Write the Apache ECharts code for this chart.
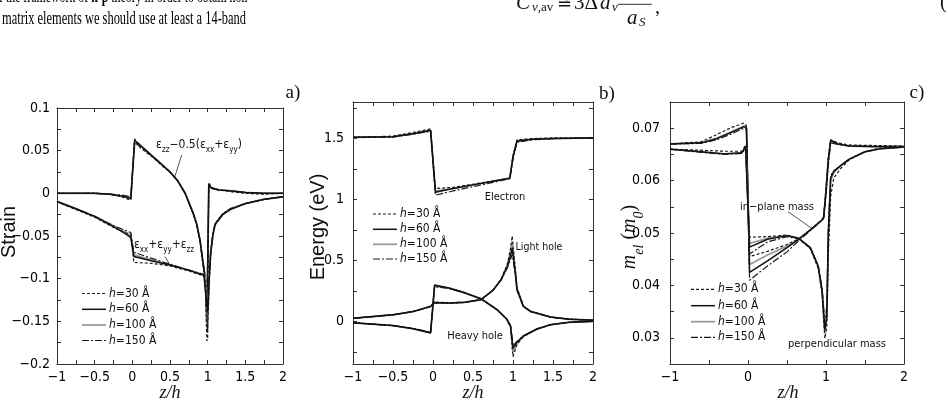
<!DOCTYPE html>
<html>
<head>
<meta charset="utf-8">
<script src="https://cdn.jsdelivr.net/npm/echarts@6/dist/echarts.min.js"></script>
<style>
  html, body { margin: 0; padding: 0; background: #fff; }
  #chart { width: 948px; height: 402px; }
</style>
</head>
<body>
<div id="chart"></div>
<script>
// h = 30, 60, 100, 150 A for every curve

// a) strain
var strainBiaxX = [-1, -0.5, -0.3, -0.15, -0.02, 0.0, 0.03, 0.1, 0.2, 0.3, 0.4, 0.5, 0.6, 0.7, 0.8, 0.85, 0.9, 0.94, 0.97, 0.99, 1.0, 1.015, 1.05, 1.15, 1.3, 1.5, 1.75, 2];
var strainBiax30 = [0, 0, -0.001, -0.004, -0.008, -0.010, 0.064, 0.054, 0.047, 0.040, 0.032, 0.025, 0.015, 0.000, -0.022, -0.036, -0.058, -0.086, -0.110, -0.173, -0.170, 0.012, 0.007, 0.004, 0.002, 0.000, -0.001, 0.000];
var strainBiax60 = [0, 0, -0.001, -0.003, -0.006, -0.008, 0.062, 0.057, 0.049, 0.041, 0.033, 0.025, 0.015, 0.000, -0.022, -0.035, -0.056, -0.083, -0.100, -0.150, -0.150, 0.011, 0.006, 0.004, 0.003, 0.001, 0.000, 0.000];
var strainBiax100 = [0, 0, -0.001, -0.003, -0.005, -0.007, 0.058, 0.056, 0.049, 0.041, 0.033, 0.025, 0.015, 0.001, -0.021, -0.034, -0.055, -0.082, -0.105, -0.160, -0.158, 0.010, 0.006, 0.004, 0.003, 0.001, 0.000, 0.000];
var strainBiax150 = [0, 0, -0.001, -0.002, -0.004, -0.006, 0.060, 0.055, 0.048, 0.041, 0.033, 0.025, 0.015, 0.000, -0.021, -0.034, -0.055, -0.081, -0.098, -0.140, -0.138, 0.009, 0.006, 0.004, 0.003, 0.001, 0.000, 0.000];

var strainHydX = [-1, -0.75, -0.5, -0.25, -0.1, -0.02, 0.0, 0.02, 0.25, 0.5, 0.75, 0.95, 0.975, 1.0, 1.02, 1.04, 1.07, 1.1, 1.2, 1.3, 1.5, 1.75, 2];
var strainHyd30 = [-0.010, -0.019, -0.028, -0.040, -0.046, -0.048, -0.050, -0.081, -0.082, -0.085, -0.091, -0.097, -0.100, -0.160, -0.105, -0.072, -0.050, -0.037, -0.025, -0.019, -0.012, -0.007, -0.004];
var strainHyd60 = [-0.0095, -0.018, -0.027, -0.039, -0.047, -0.052, -0.053, -0.074, -0.079, -0.084, -0.090, -0.096, -0.098, -0.140, -0.100, -0.070, -0.048, -0.036, -0.025, -0.019, -0.012, -0.007, -0.004];
var strainHyd100 = [-0.0095, -0.018, -0.027, -0.038, -0.045, -0.050, -0.052, -0.072, -0.078, -0.084, -0.090, -0.096, -0.099, -0.150, -0.102, -0.070, -0.048, -0.036, -0.024, -0.018, -0.012, -0.007, -0.004];
var strainHyd150 = [-0.0095, -0.018, -0.027, -0.038, -0.043, -0.046, -0.048, -0.069, -0.076, -0.083, -0.090, -0.095, -0.097, -0.135, -0.095, -0.066, -0.046, -0.035, -0.024, -0.018, -0.012, -0.007, -0.004];

// b) band energies (eV)
var elecX = [-1, -0.5, -0.25, -0.03, 0.03, 0.25, 0.5, 0.75, 0.96, 1.0, 1.05, 1.25, 1.5, 2];
var elec30 = [1.51, 1.52, 1.55, 1.58, 1.09, 1.10, 1.125, 1.15, 1.175, 1.36, 1.49, 1.50, 1.505, 1.505];
var elec60 = [1.51, 1.515, 1.54, 1.568, 1.06, 1.09, 1.12, 1.15, 1.175, 1.35, 1.48, 1.495, 1.5, 1.505];
var elec100 = [1.51, 1.515, 1.54, 1.565, 1.07, 1.09, 1.12, 1.15, 1.175, 1.35, 1.48, 1.495, 1.5, 1.505];
var elec150 = [1.51, 1.512, 1.535, 1.56, 1.035, 1.07, 1.105, 1.14, 1.17, 1.33, 1.47, 1.49, 1.5, 1.505];

var hhX = [-1, -0.5, -0.25, -0.03, 0.02, 0.2, 0.4, 0.6, 0.8, 0.92, 0.97, 1.0, 1.05, 1.13, 1.3, 1.47, 1.7, 2];
var hh30 = [-0.012, -0.035, -0.06, -0.09, 0.295, 0.272, 0.232, 0.184, 0.095, 0.018, -0.05, -0.29, -0.19, -0.125, -0.063, -0.027, -0.008, 0.0];
var hh60 = [-0.012, -0.035, -0.06, -0.095, 0.298, 0.274, 0.234, 0.186, 0.097, 0.02, -0.04, -0.22, -0.17, -0.12, -0.063, -0.027, -0.008, 0.0];
var hh100 = [-0.012, -0.035, -0.06, -0.093, 0.29, 0.272, 0.233, 0.185, 0.096, 0.02, -0.045, -0.25, -0.18, -0.122, -0.063, -0.027, -0.008, 0.0];
var hh150 = [-0.012, -0.035, -0.058, -0.09, 0.285, 0.27, 0.232, 0.185, 0.097, 0.022, -0.035, -0.2, -0.165, -0.118, -0.062, -0.027, -0.008, 0.0];

var lhX = [-1, -0.5, -0.25, -0.03, 0.02, 0.2, 0.4, 0.6, 0.75, 0.85, 0.93, 0.97, 0.99, 1.03, 1.05, 1.13, 1.22, 1.47, 1.7, 2];
var lh30 = [0.025, 0.054, 0.08, 0.12, 0.150, 0.148, 0.155, 0.178, 0.255, 0.345, 0.47, 0.6, 0.70, 0.42, 0.28, 0.125, 0.082, 0.035, 0.018, 0.01];
var lh60 = [0.025, 0.054, 0.08, 0.122, 0.155, 0.15, 0.156, 0.178, 0.255, 0.34, 0.45, 0.54, 0.60, 0.39, 0.26, 0.122, 0.081, 0.035, 0.018, 0.01];
var lh100 = [0.025, 0.054, 0.08, 0.122, 0.152, 0.15, 0.156, 0.178, 0.255, 0.34, 0.46, 0.57, 0.65, 0.40, 0.27, 0.123, 0.081, 0.035, 0.018, 0.01];
var lh150 = [0.025, 0.054, 0.08, 0.124, 0.158, 0.152, 0.157, 0.179, 0.255, 0.338, 0.44, 0.51, 0.55, 0.38, 0.255, 0.12, 0.08, 0.035, 0.018, 0.01];

// c) electron mass (m0)
var inPlaneX = [-1, -0.6, -0.4, -0.2, -0.05, -0.02, 0.02, 0.25, 0.5, 0.65, 0.8, 0.95, 0.97, 1.0, 1.03, 1.06, 1.15, 1.3, 1.6, 2];
var inPlane30 = [0.067, 0.0674, 0.0688, 0.0702, 0.0710, 0.0705, 0.0455, 0.0465, 0.0478, 0.0489, 0.0506, 0.0525, 0.0532, 0.0585, 0.0645, 0.0678, 0.0672, 0.0668, 0.0667, 0.0666];
var inPlane60 = [0.067, 0.0672, 0.068, 0.0693, 0.0703, 0.070, 0.0425, 0.0447, 0.0472, 0.0488, 0.0506, 0.0525, 0.053, 0.058, 0.064, 0.0677, 0.067, 0.0666, 0.0665, 0.0665];
var inPlane100 = [0.067, 0.0672, 0.0681, 0.0694, 0.0704, 0.0702, 0.0440, 0.0458, 0.0475, 0.0488, 0.0506, 0.0525, 0.053, 0.058, 0.064, 0.0676, 0.067, 0.0666, 0.0665, 0.0665];
var inPlane150 = [0.067, 0.0671, 0.0678, 0.0690, 0.0700, 0.0698, 0.0410, 0.0437, 0.0464, 0.0485, 0.0505, 0.0524, 0.0528, 0.057, 0.063, 0.0672, 0.0669, 0.0666, 0.0665, 0.0665];

var perpX = [-1, -0.6, -0.3, -0.08, -0.03, 0.02, 0.25, 0.5, 0.65, 0.8, 0.9, 0.95, 0.985, 1.01, 1.03, 1.06, 1.1, 1.2, 1.3, 1.5, 1.7, 2];
var perp30 = [0.066, 0.0658, 0.0656, 0.0656, 0.0668, 0.0492, 0.0493, 0.0496, 0.0489, 0.0470, 0.0433, 0.0385, 0.0299, 0.032, 0.046, 0.057, 0.0605, 0.0625, 0.064, 0.0655, 0.0662, 0.0665];
var perp60 = [0.066, 0.0655, 0.0651, 0.0653, 0.0665, 0.0473, 0.0488, 0.0495, 0.049, 0.0472, 0.0437, 0.039, 0.0315, 0.034, 0.050, 0.0605, 0.0618, 0.063, 0.0641, 0.0655, 0.0661, 0.0664];
var perp100 = [0.066, 0.0655, 0.0651, 0.0653, 0.0664, 0.0480, 0.0490, 0.0495, 0.049, 0.0471, 0.0435, 0.0388, 0.0310, 0.034, 0.049, 0.060, 0.0615, 0.063, 0.0641, 0.0655, 0.0661, 0.0664];
var perp150 = [0.066, 0.0654, 0.065, 0.0652, 0.0662, 0.0460, 0.0483, 0.0493, 0.0489, 0.0472, 0.0438, 0.0395, 0.033, 0.036, 0.051, 0.061, 0.0618, 0.063, 0.0641, 0.0655, 0.0661, 0.0664];

// ticks and tick labels
var zTicksAB = [-1, -0.75, -0.5, -0.25, 0, 0.25, 0.5, 0.75, 1, 1.25, 1.5, 1.75, 2];
var zLabelsAB = [-1, -0.5, 0, 0.5, 1, 1.5, 2];
var zTicksC = [-1, -0.5, 0, 0.5, 1, 1.5, 2];
var zLabelsC = [-1, 0, 1, 2];
var strainTicks = [-0.2, -0.175, -0.15, -0.125, -0.1, -0.075, -0.05, -0.025, 0, 0.025, 0.05, 0.075, 0.1];
var strainLabels = [-0.2, -0.15, -0.1, -0.05, 0, 0.05, 0.1];
var energyTicks = [-0.25, 0, 0.25, 0.5, 0.75, 1, 1.25, 1.5, 1.75];
var energyLabels = [0, 0.5, 1, 1.5];
var massTicks = [0.03, 0.035, 0.04, 0.045, 0.05, 0.055, 0.06, 0.065, 0.07];
var massLabels = [0.03, 0.04, 0.05, 0.06, 0.07];
var hValues = [30, 60, 100, 150];

var SANS = '"Liberation Sans Narrow", "DejaVu Sans Condensed", "Liberation Sans", sans-serif';
var SANSW = '"Liberation Sans", Arial, sans-serif';
var SERIF = '"Liberation Serif", "DejaVu Serif", serif';

var styles = {
  30: { color: '#1a1a1a', width: 1.2, type: [3, 2] },
  60: { color: '#111', width: 1.5, type: 'solid' },
  100: { color: '#999', width: 1.8, type: 'solid' },
  150: { color: '#1a1a1a', width: 1.2, type: [7, 2, 2, 2] }
};
var drawOrder = [100, 30, 150, 60];

function fmt(v) {
  return String(+(+v).toFixed(3)).replace('-', '\u2212');
}
function zip(xs, ys) {
  return xs.map(function (x, i) { return [x, ys[i]]; });
}

var series = [];
function addCurve(panel, xs, byH) {
  drawOrder.forEach(function (h) {
    series.push({
      type: 'line', name: 'h=' + h, xAxisIndex: panel * 2, yAxisIndex: panel * 2,
      data: zip(xs, byH[h]), symbol: 'none', silent: true,
      lineStyle: styles[h]
    });
  });
}
addCurve(0, strainBiaxX, { 30: strainBiax30, 60: strainBiax60, 100: strainBiax100, 150: strainBiax150 });
addCurve(0, strainHydX, { 30: strainHyd30, 60: strainHyd60, 100: strainHyd100, 150: strainHyd150 });
addCurve(1, elecX, { 30: elec30, 60: elec60, 100: elec100, 150: elec150 });
addCurve(1, hhX, { 30: hh30, 60: hh60, 100: hh100, 150: hh150 });
addCurve(1, lhX, { 30: lh30, 60: lh60, 100: lh100, 150: lh150 });
addCurve(2, inPlaneX, { 30: inPlane30, 60: inPlane60, 100: inPlane100, 150: inPlane150 });
addCurve(2, perpX, { 30: perp30, 60: perp60, 100: perp100, 150: perp150 });

function axis(g, pos, min, max, ticks, labels, margin) {
  var shown = pos === 'bottom' || pos === 'left';
  return {
    type: 'value', gridIndex: g, position: pos, min: min, max: max,
    axisLine: { onZero: false, lineStyle: { color: '#333', width: 1 } },
    axisTick: { inside: true, length: 4, customValues: ticks, lineStyle: { color: '#333' } },
    axisLabel: shown ? {
      customValues: labels, formatter: fmt, margin: margin,
      color: '#000', fontSize: 14, fontFamily: SANS
    } : { show: false },
    splitLine: { show: false }
  };
}

var xAxes = [
  axis(0, 'bottom', -1, 2, zTicksAB, zLabelsAB, 6), axis(0, 'top', -1, 2, zTicksAB, zLabelsAB),
  axis(1, 'bottom', -1, 2, zTicksAB, zLabelsAB, 6), axis(1, 'top', -1, 2, zTicksAB, zLabelsAB),
  axis(2, 'bottom', -1, 2, zTicksC, zLabelsC, 6), axis(2, 'top', -1, 2, zTicksC, zLabelsC)
];
var yAxes = [
  axis(0, 'left', -0.2, 0.1, strainTicks, strainLabels, 7), axis(0, 'right', -0.2, 0.1, strainTicks, strainLabels),
  axis(1, 'left', -0.35, 1.8, energyTicks, energyLabels, 9), axis(1, 'right', -0.35, 1.8, energyTicks, energyLabels),
  axis(2, 'left', 0.025, 0.075, massTicks, massLabels, 10), axis(2, 'right', 0.025, 0.075, massTicks, massLabels)
];

// ---- texts, annotations, legends
var graphics = [];
function txt(x, y, text, o) {
  graphics.push({
    type: 'text', x: x, y: y, silent: true, rotation: (o && o.rotation) || 0,
    scaleX: (o && o.scaleX) || 1,
    style: Object.assign({ text: text, fill: '#111', align: 'center', verticalAlign: 'middle' }, o && o.style)
  });
}
function seg(x1, y1, x2, y2, st) {
  graphics.push({
    type: 'line', silent: true, shape: { x1: x1, y1: y1, x2: x2, y2: y2 },
    style: Object.assign({ stroke: '#222', lineWidth: 1 }, st)
  });
}

// subscript rich styles
function subRich(size, family, italicMain) {
  return {
    m: { fontSize: size, fontFamily: family, fontStyle: italicMain ? 'italic' : 'normal', verticalAlign: 'bottom', padding: [0, 0, Math.round(size * 0.28), 0] },
    n: { fontSize: size, fontFamily: family, verticalAlign: 'bottom', padding: [0, 0, Math.round(size * 0.28), 0] },
    s: { fontSize: Math.round(size * 0.68), fontFamily: family, fontStyle: italicMain ? 'italic' : 'normal', verticalAlign: 'bottom' }
  };
}

// panel tags
txt(293, 93, 'a)', { style: { fontSize: 19, fontFamily: SERIF } });
txt(607, 94, 'b)', { style: { fontSize: 19, fontFamily: SERIF } });
txt(917, 93, 'c)', { style: { fontSize: 19, fontFamily: SERIF } });

// axis titles
txt(9, 232, 'Strain', { rotation: Math.PI / 2, style: { fontSize: 20, fontFamily: SANSW } });
txt(318, 227, 'Energy (eV)', { rotation: Math.PI / 2, style: { fontSize: 20, fontFamily: SANSW } });
txt(633, 237, '{m|m}{s|el}{n| (}{m|m}{s|0}{n|)}', {
  rotation: Math.PI / 2, style: { rich: subRich(20, SERIF, true), fontWeight: 'bold' }
});
[170, 473, 788].forEach(function (cx) {
  txt(cx, 393, 'z/h', { style: { fontSize: 18, fontFamily: SERIF, fontStyle: 'italic' } });
});

// annotations
var annRich = subRich(12, SANS, false);
txt(199, 146, '{n|\u03b5}{s|zz}{n|\u22120.5(\u03b5}{s|xx}{n|+\u03b5}{s|yy}{n|)}', { style: { rich: annRich } });
seg(181.7, 155, 174.3, 178.3, { stroke: '#555' });
txt(164, 246, '{n|\u03b5}{s|xx}{n|+\u03b5}{s|yy}{n|+\u03b5}{s|zz}', { style: { rich: annRich } });
seg(165, 256.7, 171, 266.7, { stroke: '#555' });
txt(505, 197, 'Electron', { style: { fontSize: 11, fontFamily: SANS } });
txt(539, 247, 'Light hole', { style: { fontSize: 10.5, fontFamily: SANS } });
txt(475, 336, 'Heavy hole', { style: { fontSize: 11, fontFamily: SANS } });
txt(777, 207, 'in\u2212plane mass', { style: { fontSize: 11, fontFamily: SANS } });
seg(788, 211.7, 811.7, 228.3, { stroke: '#555' });
txt(837, 344, 'perpendicular mass', { style: { fontSize: 11, fontFamily: SANS } });

// legends
function legend(x0, x1, ys) {
  hValues.forEach(function (h, i) {
    var s = styles[h];
    seg(x0, ys[i], x1, ys[i], { stroke: s.color, lineWidth: s.width, lineDash: s.type === 'solid' ? null : s.type });
    txt(x1 + 3, ys[i], '{i|h}=' + h + ' \u00c5', {
      style: { align: 'left', fontSize: 12, fontFamily: SANS, rich: { i: { fontSize: 12, fontFamily: SANS, fontStyle: 'italic' } } }
    });
  });
}
legend(82, 106, [293.5, 309.3, 325, 340.5]);
legend(373, 397, [214, 229.3, 244.3, 259]);
legend(691, 715, [289.3, 305.7, 321.7, 337.3]);

// text of the page above the figure
var measure = document.createElement('canvas').getContext('2d');
function fitScale(text, font, width) {
  measure.font = font;
  return width / measure.measureText(text).width;
}
var line1 = 'f the framework of k\u00b7p theory in order to obtain non';
var line2 = 'matrix elements we should use at least a 14-band';
txt(-1, -3, 'f the framework of {b|k\u00b7p} theory in order to obtain non', {
  scaleX: fitScale(line1, '19px "Liberation Serif"', 247),
  style: { align: 'left', fontSize: 19, fontFamily: SERIF, fill: '#000', rich: { b: { fontSize: 19, fontFamily: SERIF, fontWeight: 'bold' } } }
});
txt(2, 19, line2, {
  scaleX: fitScale(line2, '19px "Liberation Serif"', 244),
  style: { align: 'left', fontSize: 19, fontFamily: SERIF, fill: '#000' }
});
// equation
txt(516, 3, 'C', { style: { align: 'left', fontSize: 21, fontFamily: SERIF, fontStyle: 'italic' } });
txt(532, 8, '{i|v},av', { style: { align: 'left', fontSize: 13, fontFamily: SERIF, rich: { i: { fontSize: 13, fontFamily: SERIF, fontStyle: 'italic' } } } });
txt(557, 3, '\u2245', { style: { align: 'left', fontSize: 18, fontFamily: SERIF } });
txt(574, 3, '3\u0394', { style: { align: 'left', fontSize: 21, fontFamily: SERIF } });
txt(600, 3, 'a', { style: { align: 'left', fontSize: 21, fontFamily: SERIF, fontStyle: 'italic' } });
txt(612, 8, 'v', { style: { align: 'left', fontSize: 13, fontFamily: SERIF, fontStyle: 'italic' } });
seg(618, 4.3, 652, 4.3, { stroke: '#333', lineWidth: 1 });
txt(627, 18, 'a', { style: { align: 'left', fontSize: 21, fontFamily: SERIF, fontStyle: 'italic' } });
txt(639, 23, 'S', { style: { align: 'left', fontSize: 13, fontFamily: SERIF, fontStyle: 'italic' } });
txt(655, 8, ',', { style: { align: 'left', fontSize: 20, fontFamily: SERIF } });
txt(940, 3, '(', { style: { align: 'left', fontSize: 20, fontFamily: SERIF } });

var chart = echarts.init(document.getElementById('chart'));
chart.setOption({
  backgroundColor: '#fff',
  animation: false,
  grid: [
    { left: 57, top: 108, width: 226, height: 256 },
    { left: 353, top: 102, width: 240, height: 262 },
    { left: 670, top: 102, width: 234, height: 262 }
  ],
  xAxis: xAxes,
  yAxis: yAxes,
  series: series,
  graphic: graphics
});
</script>
</body>
</html>
